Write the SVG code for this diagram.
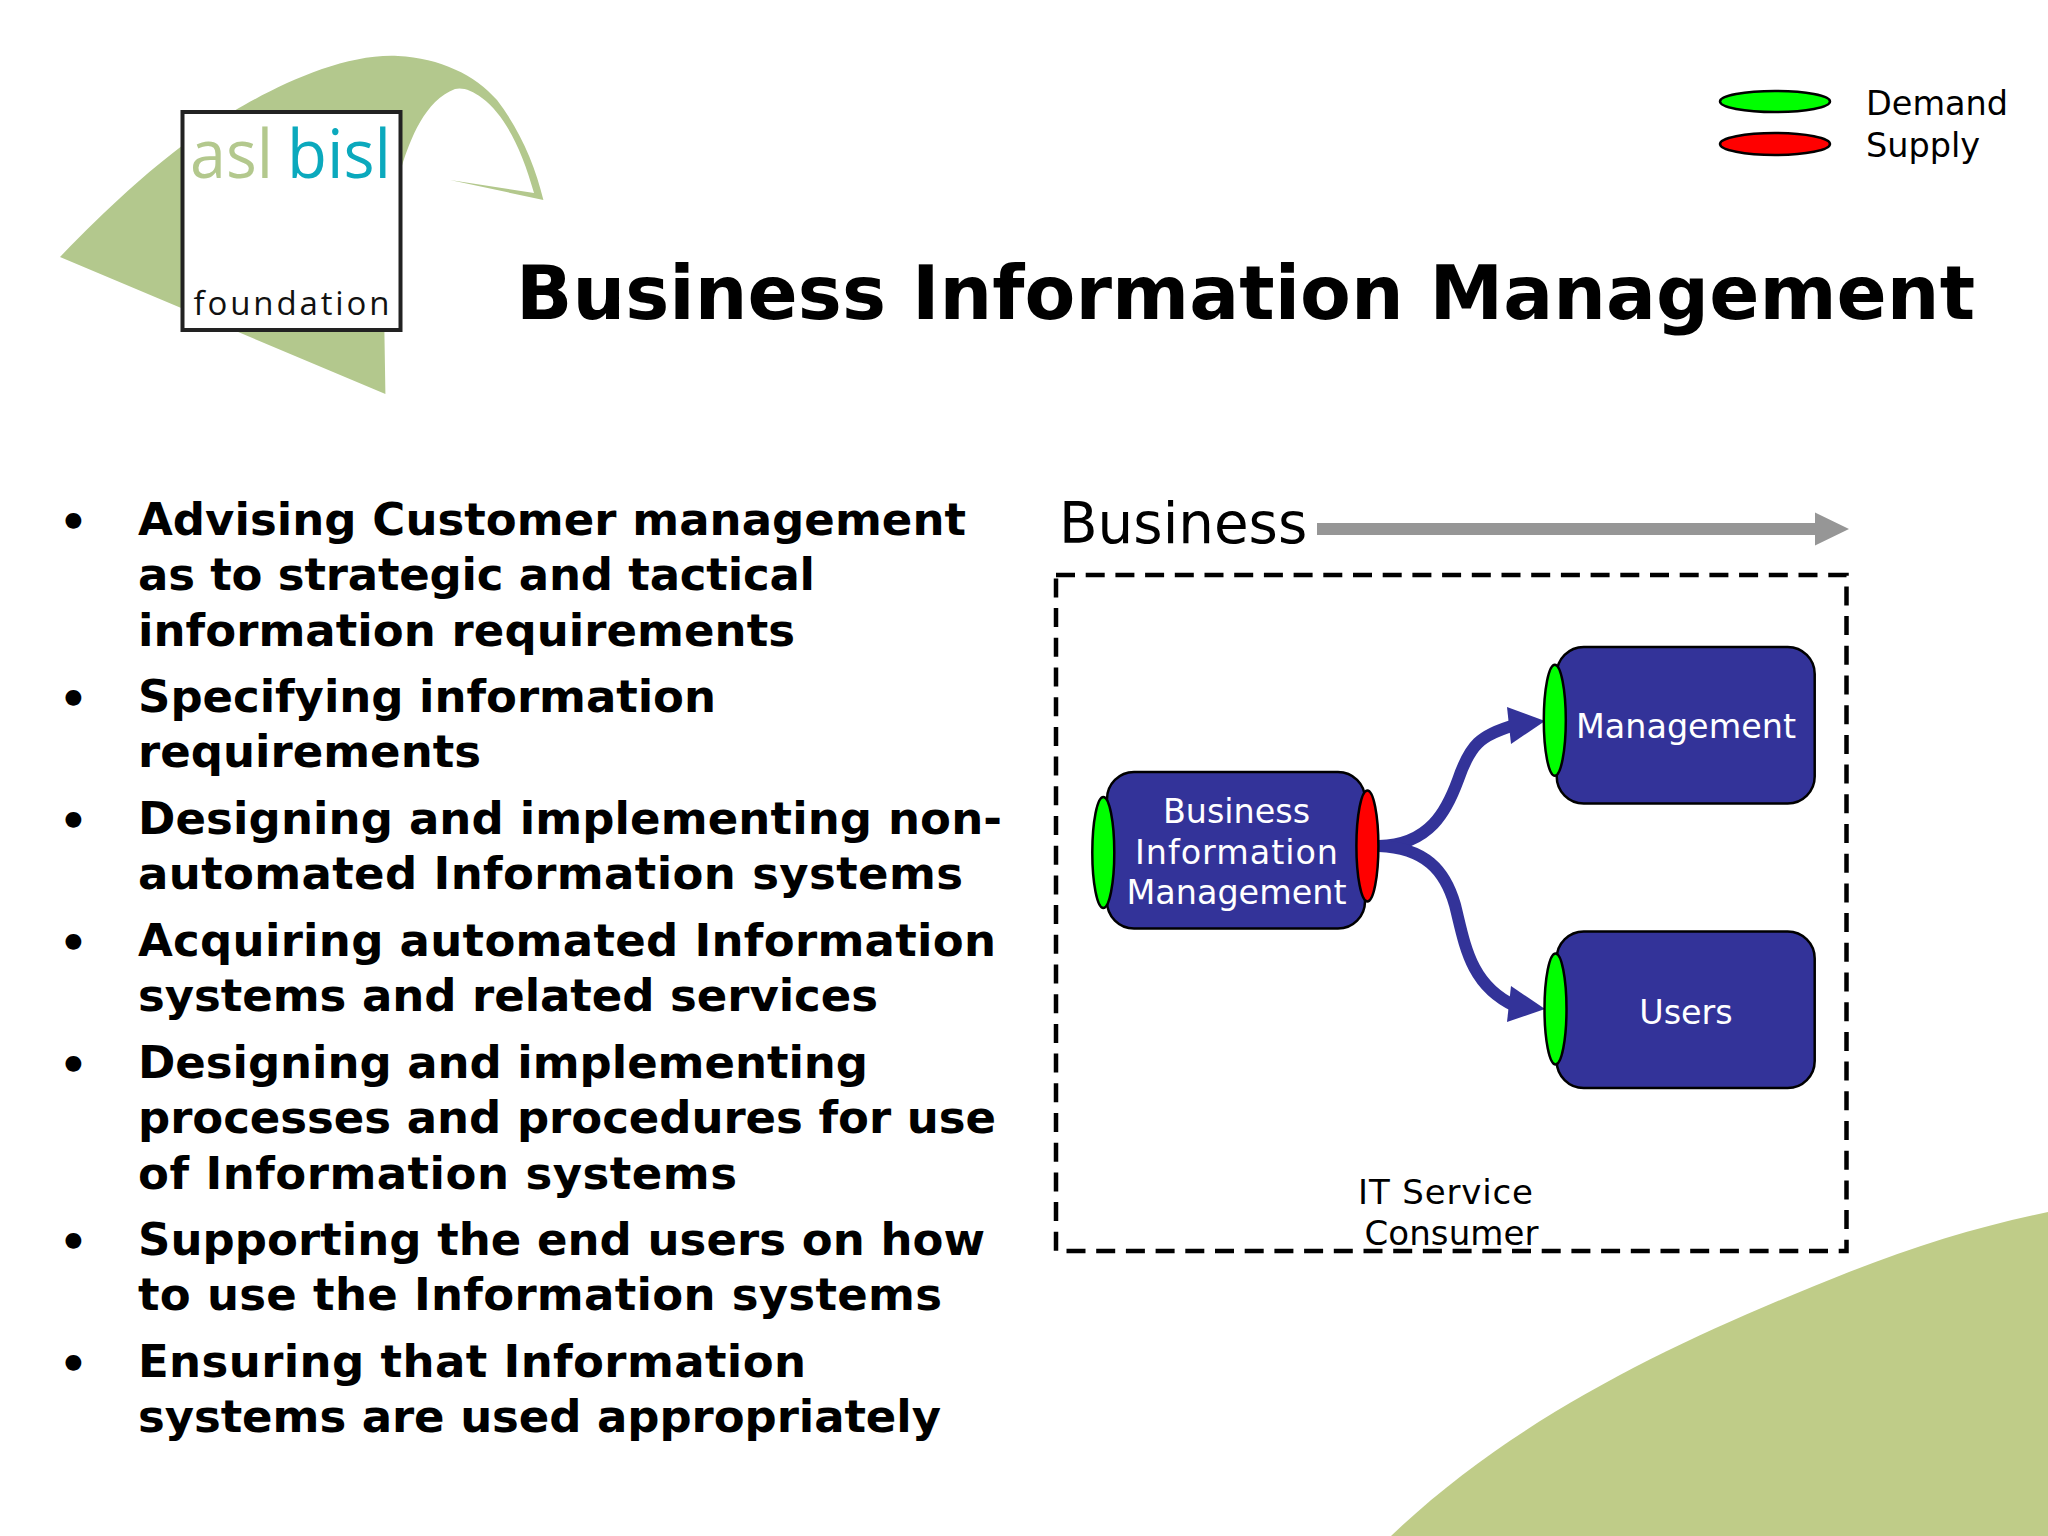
<svg xmlns="http://www.w3.org/2000/svg" width="2048" height="1536" viewBox="0 0 2048 1536">
<style>
text{font-family:"DejaVu Sans",Verdana,sans-serif}
.b{font-weight:700;font-size:45px;fill:#000}
.n{fill:#333399;stroke:#000;stroke-width:2.5}
.l{fill:#fff;font-size:33.4px;text-anchor:middle}
.g{fill:#00ff00;stroke:#000;stroke-width:2.5}
.r{fill:#ff0000;stroke:#000;stroke-width:2.5}
.k{fill:#000;font-size:33.500px}
.c{fill:none;stroke:#333399;stroke-width:12}
.h{fill:#333399}
.o{font-family:"Open Sans","Noto Sans",sans-serif}
</style>
<rect width="2048" height="1536" fill="#fff"/>
<path id="corner-swoosh" fill="#bfcc88" d="M1391 1536C1520 1412 1690 1335 1849 1272C1920 1244 1985 1225 2048 1212V1536Z"/>
<g id="logo">
<path fill="#b3c88d" d="M60 257C110 205 150 170 180.500 147C215 120 320 52 398 56C440 58 475 75 497 100C520 130 535 165 543.400 200L450 180L534 193C522 150 505 115 482 98C472 90 462 87 455 89C425 100 410 140 401.600 167L384.400 332L385.400 394Z"/>
<rect x="182.500" y="112" width="218" height="218" fill="#fff" stroke="#222" stroke-width="4"/>
<text class="o" x="190" y="178" font-size="68" fill="#b3c88d" textLength="83" lengthAdjust="spacingAndGlyphs">asl</text>
<text class="o" x="287" y="178" font-size="68" fill="#0ba9bd" textLength="104" lengthAdjust="spacingAndGlyphs">bisl</text>
<text class="o" x="193.500" y="315" font-size="33" fill="#111" textLength="196">foundation</text>
</g>
<text id="title" x="516" y="319" font-size="74" font-weight="700" fill="#000" textLength="1459">Business Information Management</text>
<g id="legend">
<ellipse class="g" cx="1775" cy="101.500" rx="55" ry="10.500"/>
<ellipse class="r" cx="1775" cy="144" rx="55" ry="11"/>
<text class="k" x="1866" y="115">Demand</text>
<text class="k" x="1866" y="157">Supply</text>
</g>
<g id="bullets">
<text class="b" x="59" y="537">•</text><text class="b" x="138" y="535" textLength="828">Advising Customer management</text>
<text class="b" x="138" y="590" textLength="677">as to strategic and tactical</text>
<text class="b" x="138" y="646" textLength="657">information requirements</text>
<text class="b" x="59" y="714">•</text><text class="b" x="138" y="712" textLength="578">Specifying information</text>
<text class="b" x="138" y="767" textLength="343">requirements</text>
<text class="b" x="59" y="836">•</text><text class="b" x="138" y="834" textLength="864">Designing and implementing non-</text>
<text class="b" x="138" y="889" textLength="825">automated Information systems</text>
<text class="b" x="59" y="958">•</text><text class="b" x="138" y="956" textLength="858">Acquiring automated Information</text>
<text class="b" x="138" y="1011" textLength="740">systems and related services</text>
<text class="b" x="59" y="1080">•</text><text class="b" x="138" y="1078" textLength="730">Designing and implementing</text>
<text class="b" x="138" y="1133" textLength="858">processes and procedures for use</text>
<text class="b" x="138" y="1189" textLength="599">of Information systems</text>
<text class="b" x="59" y="1257">•</text><text class="b" x="138" y="1255" textLength="847">Supporting the end users on how</text>
<text class="b" x="138" y="1310" textLength="804">to use the Information systems</text>
<text class="b" x="59" y="1379">•</text><text class="b" x="138" y="1377" textLength="668">Ensuring that Information</text>
<text class="b" x="138" y="1432" textLength="803">systems are used appropriately</text>
</g>
<g id="business-axis">
<text x="1059" y="542.500" font-size="56.300" fill="#000">Business</text>
<path fill="#969696" d="M1317 523H1815V512.500L1849 529L1815 545.500V535H1317Z"/>
</g>
<rect id="consumer-boundary" x="1056" y="575" width="790.500" height="676" fill="none" stroke="#000" stroke-width="4.500" stroke-dasharray="19 10.700"/>
<g id="connectors">
<path class="c" d="M1379 846C1430 845 1447 810 1458 780C1470 745 1480 735 1515 725"/>
<path class="h" d="M1507 707L1545 721L1511 744Z"/>
<path class="c" d="M1379 846C1425 848 1445 870 1455 905C1465 945 1470 985 1515 1006"/>
<path class="h" d="M1511 986L1545 1009L1507 1022Z"/>
</g>
<g id="node-bim">
<rect class="n" x="1107" y="772" width="258" height="156.500" rx="27" ry="27"/>
<ellipse class="g" cx="1103.300" cy="852.500" rx="11" ry="55.500"/>
<ellipse class="r" cx="1367.400" cy="846" rx="11" ry="55.500"/>
<text class="l" x="1236.500" y="823">Business</text>
<text class="l" x="1236.500" y="864" textLength="203">Information</text>
<text class="l" x="1236.500" y="904">Management</text>
</g>
<g id="node-management">
<rect class="n" x="1556.700" y="647" width="258" height="156.500" rx="27" ry="27"/>
<ellipse class="g" cx="1554.800" cy="720.300" rx="11" ry="55.500"/>
<text class="l" x="1686" y="738">Management</text>
</g>
<g id="node-users">
<rect class="n" x="1556.700" y="931.500" width="258" height="156.500" rx="27" ry="27"/>
<ellipse class="g" cx="1555.500" cy="1009" rx="11" ry="55.500"/>
<text class="l" x="1686" y="1024">Users</text>
</g>
<g id="label-consumer">
<text class="k" x="1358" y="1204" style="font-size:34px" textLength="175">IT Service</text>
<text class="k" x="1364.500" y="1245" style="font-size:34px" textLength="174">Consumer</text>
</g>
</svg>
